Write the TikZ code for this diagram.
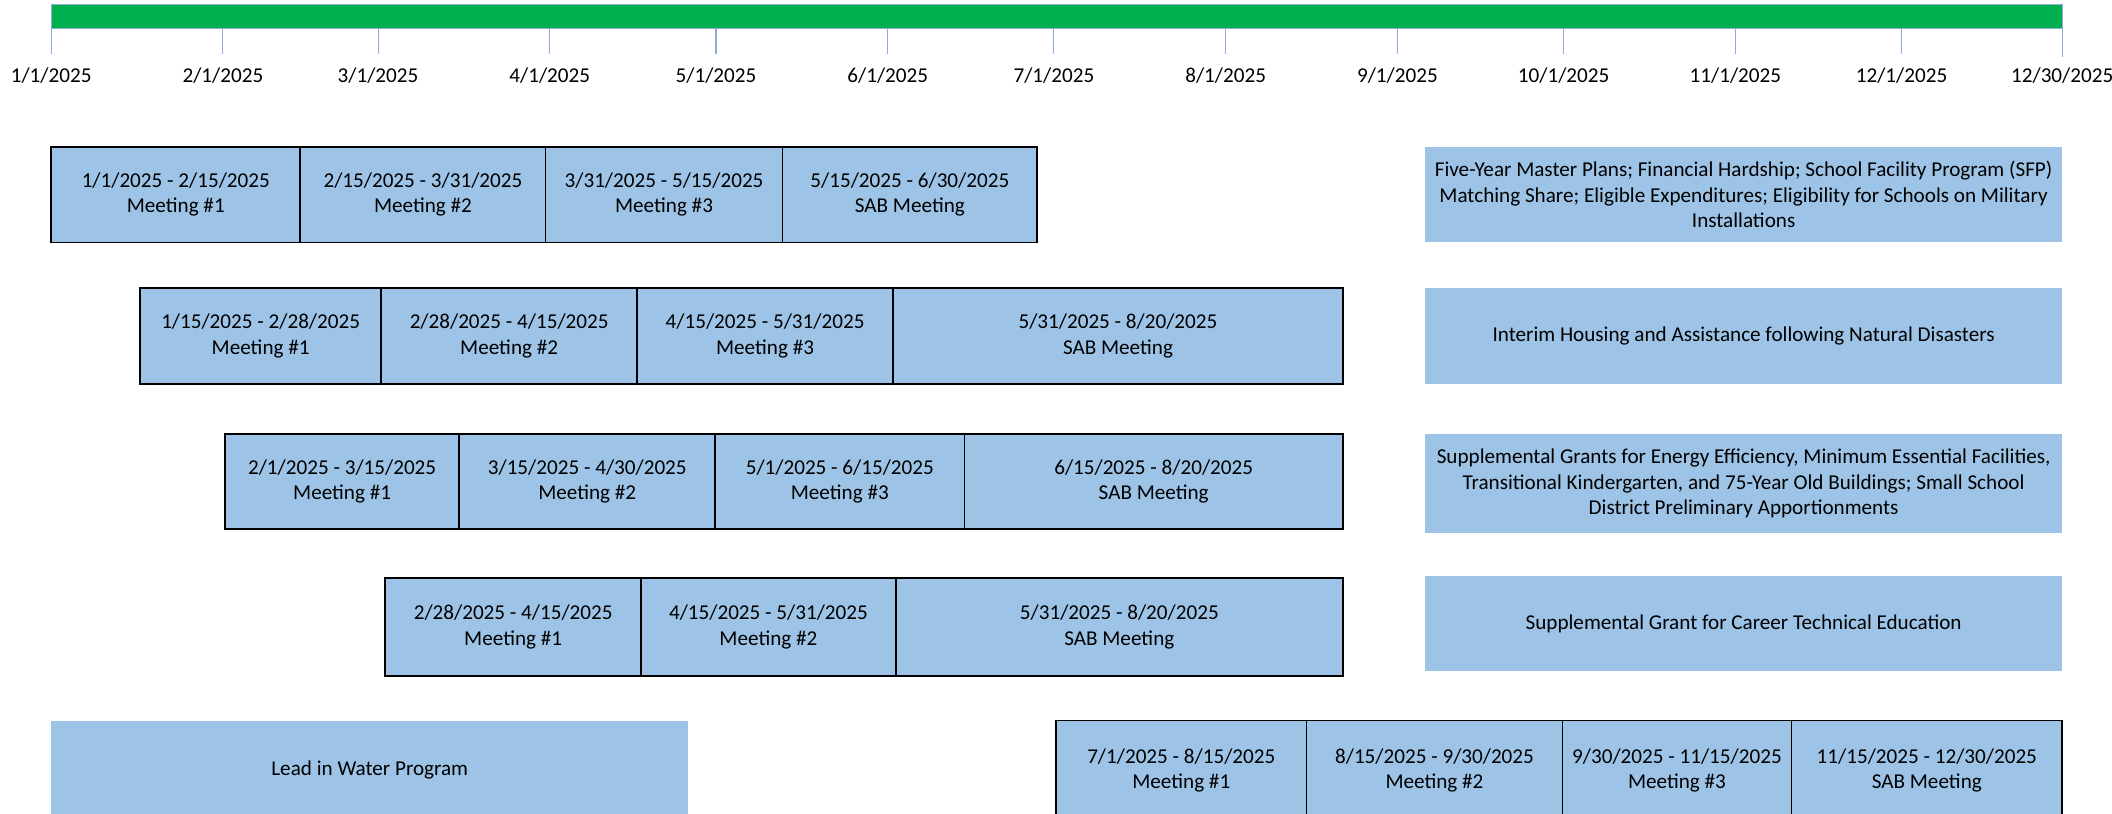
\documentclass[tikz,border=0pt]{standalone}
\usepackage{fontspec}
\setmainfont{Carlito}
\usetikzlibrary{positioning}
\definecolor{bargreen}{HTML}{00B050}
\definecolor{boxblue}{HTML}{9DC3E6}
\definecolor{tickblue}{HTML}{8FAADC}

\begin{document}
\begin{tikzpicture}[x=1pt, y=-1pt,
    font=\fontsize{15.7}{19}\selectfont,
    tick/.style={draw=tickblue, line width=0.8pt},
    mtg/.style={draw=black, line width=1.3pt, fill=boxblue, align=center,
      inner sep=0pt, outer sep=0pt, minimum height=71pt},
    topic/.style={fill=boxblue, align=center, inner sep=0pt, outer sep=0pt,
      minimum width=473pt, anchor=north west}]
  \useasboundingbox (0,0) rectangle (1568,604);
  \clip (0,0) rectangle (1568,604);

  % timeline
  \node[fill=bargreen, draw=tickblue, line width=0.6pt, inner sep=0pt, outer sep=0pt,
    minimum width=1493pt, minimum height=18pt, anchor=north west] (bar) at (38,3) {};
  \foreach \d/\m in {0/1,31/2,59/3,90/4,120/5,151/6,181/7,212/8,243/9,273/10,304/11,334/12}{
    \coordinate (k\m) at ({38+4.113*\d},40);
    \draw[tick] (bar.south -| k\m) -- (k\m);
    \node (t\m) at ({38+4.113*\d},56) {\m/1/2025};
  }
  \coordinate (kend) at (1531,42);
  \draw[tick] (bar.south east) -- (kend);
  \node (tend) at (1531,56) {12/30/2025};

  % row 1
  \node[mtg, minimum width=185pt, anchor=north west] (a1) at (38,109) {1/1/2025 - 2/15/2025\\Meeting \#1};
  \node[mtg, minimum width=182pt, right=0pt of a1] (a2) {2/15/2025 - 3/31/2025\\Meeting \#2};
  \node[mtg, minimum width=176pt, right=0pt of a2] (a3) {3/31/2025 - 5/15/2025\\Meeting \#3};
  \node[mtg, minimum width=189pt, right=0pt of a3] (a4) {5/15/2025 - 6/30/2025\\SAB Meeting};
  \node[topic, minimum height=71pt] (ta) at (1058,109) {Five-Year Master Plans; Financial Hardship; School Facility Program (SFP)\\Matching Share; Eligible Expenditures; Eligibility for Schools on Military\\Installations};

  % row 2
  \node[mtg, minimum width=179pt, anchor=north west] (b1) at (104,214) {1/15/2025 - 2/28/2025\\Meeting \#1};
  \node[mtg, minimum width=190pt, right=0pt of b1] (b2) {2/28/2025 - 4/15/2025\\Meeting \#2};
  \node[mtg, minimum width=190pt, right=0pt of b2] (b3) {4/15/2025 - 5/31/2025\\Meeting \#3};
  \node[mtg, minimum width=334pt, right=0pt of b3] (b4) {5/31/2025 - 8/20/2025\\SAB Meeting};
  \node[topic, minimum height=71pt] (tb) at (1058,214) {Interim Housing and Assistance following Natural Disasters};

  % row 3
  \node[mtg, minimum width=174pt, anchor=north west] (c1) at (167,322) {2/1/2025 - 3/15/2025\\Meeting \#1};
  \node[mtg, minimum width=190pt, right=0pt of c1] (c2) {3/15/2025 - 4/30/2025\\Meeting \#2};
  \node[mtg, minimum width=185pt, right=0pt of c2] (c3) {5/1/2025 - 6/15/2025\\Meeting \#3};
  \node[mtg, minimum width=281pt, right=0pt of c3] (c4) {6/15/2025 - 8/20/2025\\SAB Meeting};
  \node[topic, minimum height=74pt] (tc) at (1058,322) {Supplemental Grants for Energy Efficiency, Minimum Essential Facilities,\\Transitional Kindergarten, and 75-Year Old Buildings; Small School\\District Preliminary Apportionments};

  % row 4
  \node[mtg, minimum width=190pt, minimum height=73pt, anchor=north west] (d1) at (286,429) {2/28/2025 - 4/15/2025\\Meeting \#1};
  \node[mtg, minimum width=189pt, minimum height=73pt, right=0pt of d1] (d2) {4/15/2025 - 5/31/2025\\Meeting \#2};
  \node[mtg, minimum width=332pt, minimum height=73pt, right=0pt of d2] (d3) {5/31/2025 - 8/20/2025\\SAB Meeting};
  \node[topic, minimum height=70pt] (td) at (1058,428) {Supplemental Grant for Career Technical Education};

  % row 5
  \node[topic, minimum height=74pt] (te) at (38,535) {Lead in Water Program};
  \node[mtg, minimum width=186pt, minimum height=74pt, anchor=north west] (e1) at (784,535) {7/1/2025 - 8/15/2025\\Meeting \#1};
  \node[mtg, minimum width=190pt, minimum height=74pt, right=0pt of e1] (e2) {8/15/2025 - 9/30/2025\\Meeting \#2};
  \node[mtg, minimum width=170pt, minimum height=74pt, right=0pt of e2] (e3) {9/30/2025 - 11/15/2025\\Meeting \#3};
  \node[mtg, minimum width=201pt, minimum height=74pt, right=0pt of e3] (e4) {11/15/2025 - 12/30/2025\\SAB Meeting};
\end{tikzpicture}
\end{document}
